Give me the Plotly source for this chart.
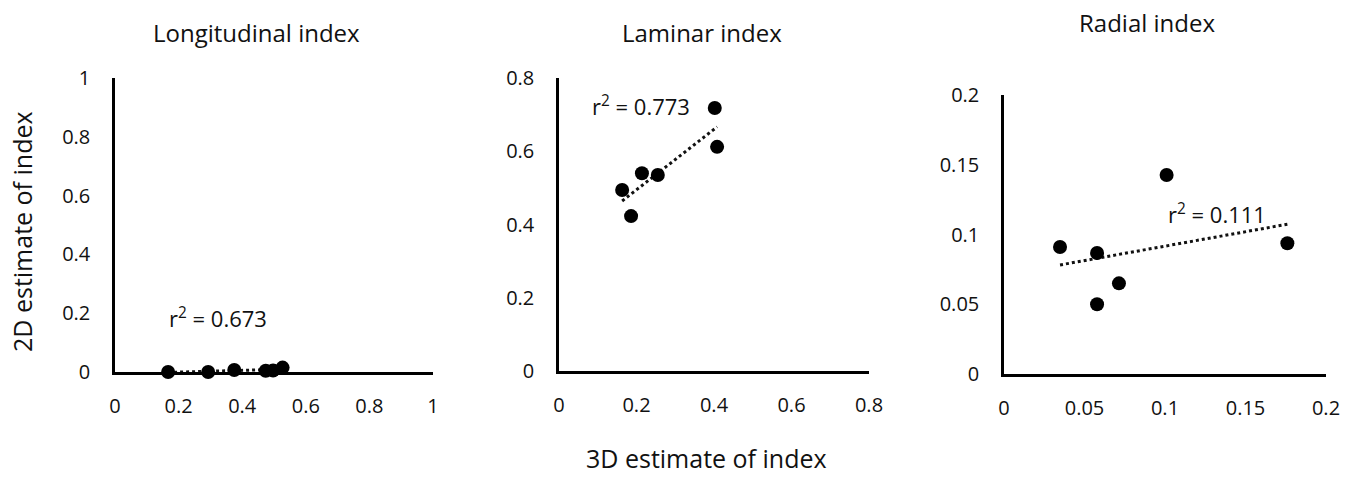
import numpy as np
import plotly.graph_objects as go

W, H = 1353, 477

# ---- data ----
panel_titles = ["Longitudinal index", "Laminar index", "Radial index"]
r2_labels = ["0.673", "0.773", "0.111"]

long_x = [0.167, 0.293, 0.375, 0.474, 0.497, 0.527]
long_y = [0.000, 0.000, 0.007, 0.004, 0.005, 0.015]

lam_x = [0.163, 0.186, 0.214, 0.255, 0.402, 0.408]
lam_y = [0.494, 0.423, 0.540, 0.535, 0.718, 0.612]

rad_x = [0.0348, 0.0578, 0.0578, 0.0714, 0.101, 0.176]
rad_y = [0.091, 0.0867, 0.050, 0.065, 0.1426, 0.0937]

long_ticks = [0, 0.2, 0.4, 0.6, 0.8, 1]
lam_ticks = [0, 0.2, 0.4, 0.6, 0.8]
rad_ticks = [0, 0.05, 0.1, 0.15, 0.2]

xlabel = "3D estimate of index"
ylabel = "2D estimate of index"

# ---- layout geometry (pixels) ----
def px_dom_x(a, b):
    return [a / W, b / W]

def px_dom_y(top, bottom):
    return [1 - bottom / H, 1 - top / H]

panels = [
    dict(x=long_x, y=long_y, ticks=long_ticks, rng=[0, 1],
         dx=px_dom_x(115, 433), dy=px_dom_y(78, 372),
         r2pos=(0.324, 0.184), title_px=(256, 33)),
    dict(x=lam_x, y=lam_y, ticks=lam_ticks, rng=[0, 0.8],
         dx=px_dom_x(559, 869), dy=px_dom_y(78, 371),
         r2pos=(0.212, 0.726), title_px=(702, 33)),
    dict(x=rad_x, y=rad_y, ticks=rad_ticks, rng=[0, 0.2],
         dx=px_dom_x(1004, 1326), dy=px_dom_y(95, 374),
         r2pos=(0.132, 0.1154), title_px=(1147, 23)),
]

FONT = "'Open Sans', Lato, sans-serif"
INK = "#111111"

fig = go.Figure()
annotations = []
for i, p in enumerate(panels):
    n = "" if i == 0 else str(i + 1)
    xa, ya = "x" + n, "y" + n
    xs = np.array(p["x"]); ys = np.array(p["y"])
    slope, intercept = np.polyfit(xs, ys, 1)
    tx = np.array([xs.min(), xs.max()])
    ty = slope * tx + intercept
    fig.add_trace(go.Scatter(x=tx, y=ty, mode="lines", xaxis=xa, yaxis=ya,
                             line=dict(color=INK, width=3, dash="3px,3px"),
                             hoverinfo="skip", cliponaxis=False, showlegend=False))
    fig.add_trace(go.Scatter(x=p["x"], y=p["y"], mode="markers", xaxis=xa, yaxis=ya,
                             marker=dict(color="black", size=14),
                             cliponaxis=False, showlegend=False))
    axis_common = dict(showgrid=False, zeroline=False, showline=True,
                       linecolor="black", linewidth=2.5, ticks="", automargin=False,
                       tickfont=dict(family=FONT, size=20, color=INK),
                       tickmode="array", tickvals=p["ticks"],
                       ticktext=[("%g" % t) for t in p["ticks"]],
                       range=p["rng"], fixedrange=True)
    fig.layout["xaxis" + n] = dict(axis_common, domain=p["dx"], anchor=ya,
                                   ticklabelstandoff=14)
    fig.layout["yaxis" + n] = dict(axis_common, domain=p["dy"], anchor=xa,
                                   ticklabelstandoff=18)
    annotations.append(dict(text="r<sup>2</sup> = " + r2_labels[i], x=p["r2pos"][0],
                            y=p["r2pos"][1], xref=xa, yref=ya, showarrow=False,
                            font=dict(family=FONT, size=22, color=INK)))
    annotations.append(dict(text=panel_titles[i], x=p["title_px"][0] / W,
                            y=1 - p["title_px"][1] / H, xref="paper", yref="paper",
                            showarrow=False, xanchor="center", yanchor="middle",
                            font=dict(family=FONT, size=24, color=INK)))

annotations.append(dict(text=xlabel, x=706 / W, y=0, xref="paper", yref="paper",
                        showarrow=False, xanchor="center", yanchor="bottom",
                        font=dict(family=FONT, size=25, color=INK)))
annotations.append(dict(text=ylabel, x=22 / W, y=1 - 232 / H, xref="paper", yref="paper",
                        showarrow=False, xanchor="center", yanchor="middle", textangle=-90,
                        font=dict(family=FONT, size=25, color=INK)))

fig.update_layout(width=W, height=H, margin=dict(l=0, r=0, t=0, b=0),
                  paper_bgcolor="white", plot_bgcolor="white",
                  annotations=annotations, showlegend=False)

fig.write_html("out.html", config={"displayModeBar": False},
               post_script="document.body.style.margin='0';document.body.style.overflow='hidden';")
